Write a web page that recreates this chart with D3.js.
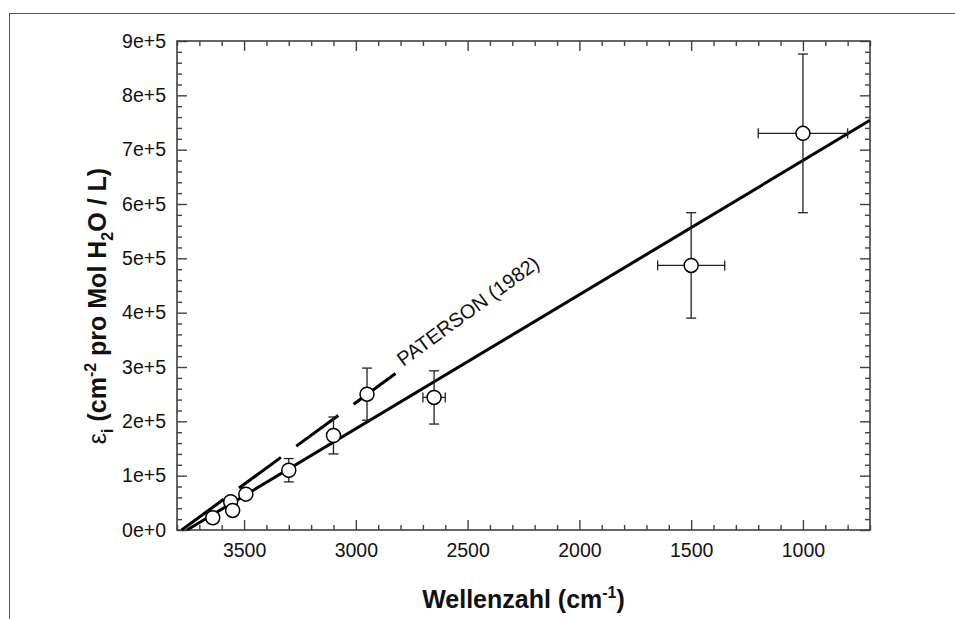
<!DOCTYPE html>
<html>
<head>
<meta charset="utf-8">
<script src="https://cdn.jsdelivr.net/npm/d3@7"></script>
<style>
  body { margin: 0; background: #fff; }
  svg { display: block; font-family: "Liberation Sans", Arial, sans-serif; }
</style>
</head>
<body>
<svg id="chart" width="955" height="619"></svg>
<script>
// messwerte (wellenzahl, epsilon, fehler)
const wavenumbers = [3640, 3560, 3551, 3492, 3300, 3100, 2950, 2650, 1500, 1000];
const epsValues   = [22600, 52000, 36000, 66000, 110000, 174000, 250000, 244000, 487000, 730000];
const epsErrors   = [0, 0, 0, 0, 21500, 34000, 48000, 49000, 97000, 146000];
const waveErrors  = [0, 0, 0, 0, 0, 0, 0, 50, 150, 200];

// ausgleichsgerade und Paterson (1982)
const fitX = [3755, 700];
const fitY = [0, 754000];
const patersonX = [3779, 2819];
const patersonY = [0, 289000];
const patersonLabel = 'PATERSON (1982)';
const patersonLabelX = 2788;

const xTicks = [3500, 3000, 2500, 2000, 1500, 1000];
const yTicks = [0, 100000, 200000, 300000, 400000, 500000, 600000, 700000, 800000, 900000];

const margin = {left: 177, right: 85, top: 41, bottom: 89};
const W = 955, H = 619;
const svg = d3.select('#chart');

// aeusserer rahmen
svg.append('rect')
    .attr('x', 9.5).attr('y', 13.5)
    .attr('width', 1000).attr('height', 700)
    .attr('fill', 'none').attr('stroke', '#555').attr('stroke-width', 1);

const x = d3.scaleLinear().domain([3800, 700]).range([margin.left, W - margin.right]);
const y = d3.scaleLinear().domain([0, 900000]).range([H - margin.bottom, margin.top]);

const xMinor = d3.range(3800, 699, -100).filter(v => !xTicks.includes(v));
const yMinor = d3.range(0, 900001, 20000).filter(v => !yTicks.includes(v));

const axisColor = '#404040';
function styleAxis(g) {
    g.select('.domain').remove();
    g.selectAll('line').attr('stroke', axisColor).attr('stroke-width', 1.4);
    g.selectAll('text').attr('fill', '#111').style('font-size', '19.5px');
}

const [x0, x1] = x.range(), [y0, y1] = y.range();

// major + minor ticks on all four sides (nach innen)
svg.append('g').attr('transform', `translate(0,${y0})`)
    .call(d3.axisBottom(x).tickValues(xTicks).tickSize(-10).tickPadding(13).tickFormat(d3.format('d')))
    .call(styleAxis);
svg.append('g').attr('transform', `translate(0,${y0})`)
    .call(d3.axisBottom(x).tickValues(xMinor).tickSize(-5).tickFormat(''))
    .call(styleAxis);
svg.append('g').attr('transform', `translate(0,${y1})`)
    .call(d3.axisTop(x).tickValues(xTicks).tickSize(-10).tickFormat(''))
    .call(styleAxis);
svg.append('g').attr('transform', `translate(0,${y1})`)
    .call(d3.axisTop(x).tickValues(xMinor).tickSize(-5).tickFormat(''))
    .call(styleAxis);

svg.append('g').attr('transform', `translate(${x0},0)`)
    .call(d3.axisLeft(y).tickValues(yTicks).tickSize(-10).tickPadding(11).tickFormat(d3.format('.0e')))
    .call(styleAxis);
svg.append('g').attr('transform', `translate(${x0},0)`)
    .call(d3.axisLeft(y).tickValues(yMinor).tickSize(-5).tickFormat(''))
    .call(styleAxis);
svg.append('g').attr('transform', `translate(${x1},0)`)
    .call(d3.axisRight(y).tickValues(yTicks).tickSize(-10).tickFormat(''))
    .call(styleAxis);
svg.append('g').attr('transform', `translate(${x1},0)`)
    .call(d3.axisRight(y).tickValues(yMinor).tickSize(-5).tickFormat(''))
    .call(styleAxis);

svg.append('rect')
    .attr('x', x0).attr('y', y1)
    .attr('width', x1 - x0).attr('height', y0 - y1)
    .attr('fill', 'none').attr('stroke', axisColor).attr('stroke-width', 1.6);

const line = d3.line().x(d => x(d[0])).y(d => y(d[1]));

// Paterson gestrichelt
svg.append('path')
    .datum(d3.zip(patersonX, patersonY))
    .attr('d', line)
    .attr('fill', 'none').attr('stroke', '#000').attr('stroke-width', 3)
    .attr('stroke-dasharray', '52,19');

const pSlope = (patersonY[1] - patersonY[0]) / (patersonX[1] - patersonX[0]);
const lx = x(patersonLabelX), ly = y(patersonY[0] + pSlope * (patersonLabelX - patersonX[0]));
const angle = Math.atan2(
    y(patersonY[1]) - y(patersonY[0]), x(patersonX[1]) - x(patersonX[0])) * 180 / Math.PI;
svg.append('text')
    .attr('transform', `translate(${lx},${ly - 1}) rotate(${angle})`)
    .style('font-size', '20px').attr('fill', '#111')
    .text(patersonLabel);

// ausgleichsgerade
svg.append('path')
    .datum(d3.zip(fitX, fitY))
    .attr('d', line)
    .attr('fill', 'none').attr('stroke', '#000').attr('stroke-width', 3);

// fehlerbalken
const pts = wavenumbers.map((w, i) => ({w, e: epsValues[i], de: epsErrors[i], dw: waveErrors[i]}));
const err = svg.append('g').attr('stroke', '#222').attr('stroke-width', 1.3);
const cap = 5;
pts.filter(d => d.de > 0).forEach(d => {
    const cx = x(d.w), ya = y(d.e - d.de), yb = y(d.e + d.de);
    err.append('line').attr('x1', cx).attr('x2', cx).attr('y1', ya).attr('y2', yb);
    err.append('line').attr('x1', cx - cap).attr('x2', cx + cap).attr('y1', ya).attr('y2', ya);
    err.append('line').attr('x1', cx - cap).attr('x2', cx + cap).attr('y1', yb).attr('y2', yb);
});
pts.filter(d => d.dw > 0).forEach(d => {
    const cy = y(d.e), xa = x(d.w - d.dw), xb = x(d.w + d.dw);
    err.append('line').attr('x1', xa).attr('x2', xb).attr('y1', cy).attr('y2', cy);
    err.append('line').attr('x1', xa).attr('x2', xa).attr('y1', cy - cap).attr('y2', cy + cap);
    err.append('line').attr('x1', xb).attr('x2', xb).attr('y1', cy - cap).attr('y2', cy + cap);
});

svg.append('g').selectAll('circle')
    .data(pts)
    .join('circle')
    .attr('cx', d => x(d.w)).attr('cy', d => y(d.e)).attr('r', 7)
    .attr('fill', '#fff').attr('stroke', '#000').attr('stroke-width', 1.5);

// achsenbeschriftung
const xl = svg.append('text')
    .attr('x', (x0 + x1) / 2).attr('y', 608)
    .attr('text-anchor', 'middle')
    .style('font-size', '25px').style('font-weight', 'bold').attr('fill', '#111');
xl.append('tspan').text('Wellenzahl (cm');
xl.append('tspan').attr('dy', -10).style('font-size', '16px').text('-1');
xl.append('tspan').attr('dy', 10).text(')');

const yl = svg.append('text')
    .attr('transform', `translate(106,306) rotate(-90)`)
    .attr('text-anchor', 'middle')
    .style('font-size', '25px').style('font-weight', 'bold').attr('fill', '#111');
yl.append('tspan').style('font-weight', 'normal').text('ε');
yl.append('tspan').attr('dy', 7).style('font-size', '16px').text('i');
yl.append('tspan').attr('dy', -7).text(' (cm');
yl.append('tspan').attr('dy', -10).style('font-size', '16px').text('-2');
yl.append('tspan').attr('dy', 10).text('  pro Mol H');
yl.append('tspan').attr('dy', 7).style('font-size', '16px').text('2');
yl.append('tspan').attr('dy', -7).text('O / L)');
</script>
</body>
</html>
